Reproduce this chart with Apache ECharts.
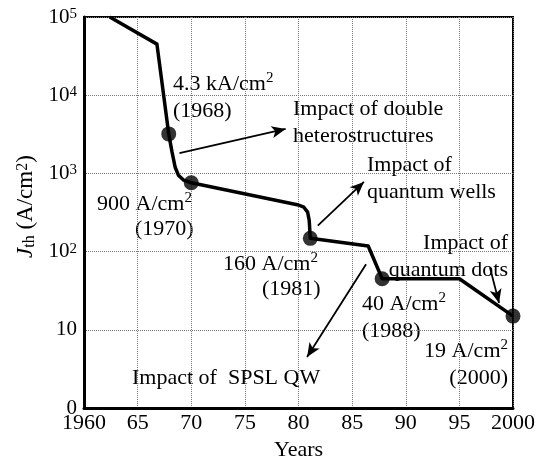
<!DOCTYPE html>
<html>
<head>
<meta charset="utf-8">
<script src="https://cdn.jsdelivr.net/npm/echarts@6/dist/echarts.min.js"></script>
<style>
  html, body { margin: 0; padding: 0; background: #fff; }
  #chart { width: 538px; height: 466px; }
</style>
</head>
<body>
<div id="chart"></div>
<script>
// curve (year, threshold current density A/cm2)
const curveYears = [1962.4, 1966.8, 1967.9, 1968.2, 1968.5, 1968.8, 1969.3, 1970, 1980, 1980.5, 1980.85, 1981.0, 1981.1];
const curveJth   = [100000, 45000, 3200, 1900, 1200, 950, 820, 760, 395, 370, 320, 250, 148];
const tailYears  = [1986.5, 1987.8, 1995, 2000];
const tailJth    = [118, 45, 45, 15];

// labelled milestones (dots)
const dotYears = [1967.9, 1970, 1981.1, 1987.8, 2000];
const dotJth   = [3200, 760, 148, 45, 15];

// arrows: [fromYear, fromJth, toYear, toJth]
const arrows = [
  [1968.9, 1820, 1978.8, 3700],
  [1981.8, 215, 1986.1, 780],
  [1986.3, 69, 1980.8, 4.5],
  [1997.85, 63, 1998.7, 22]
];

const FONT = '"Liberation Serif", "DejaVu Serif", serif';

const chart = echarts.init(document.getElementById('chart'));

// annotation text helper
function note(text, x, y, align) {
  return {
    type: 'text',
    x: x,
    y: y,
    silent: true,
    style: {
      text: text,
      fontSize: 22,
      fontFamily: FONT,
      fill: '#000',
      align: align || 'left',
      verticalAlign: 'top',
      lineHeight: 27,
      rich: {
        sup: { fontSize: 15, fontFamily: FONT, verticalAlign: 'top', lineHeight: 27 },
        n: { fontSize: 22, fontFamily: FONT, lineHeight: 27 }
      }
    }
  };
}

const curve = curveYears.map((x, i) => [x, curveJth[i]])
  .concat(tailYears.map((x, i) => [x, tailJth[i]]));

chart.setOption({
  animation: false,
  grid: {
    left: 84, right: 23, top: 17, bottom: 46,
    show: true, borderColor: '#000', borderWidth: 2, backgroundColor: 'transparent'
  },
  xAxis: {
    type: 'value',
    min: 1960, max: 2000, interval: 5,
    name: 'Years',
    nameLocation: 'middle',
    nameGap: 22,
    nameTextStyle: { fontSize: 22, fontFamily: FONT, color: '#000' },
    axisLine: { show: true, lineStyle: { color: '#000', width: 3 } },
    axisTick: { show: false },
    axisLabel: {
      fontSize: 22, fontFamily: FONT, color: '#000', margin: 4,
      formatter: v => (v === 1960 || v === 2000) ? String(v) : String(v - 1900)
    },
    splitLine: { show: true, lineStyle: { color: '#777', type: 'dotted', width: 1 } }
  },
  yAxis: {
    type: 'log',
    min: 1, max: 100000, logBase: 10,
    name: '{i|J}{sub|th}{n| (A/cm}{sup|2}{n|)}',
    nameLocation: 'middle',
    nameGap: 46,
    nameRotate: 90,
    nameTextStyle: {
      fontFamily: FONT, color: '#000', fontSize: 22,
      padding: [0, 0, 0, 12],
      rich: {
        i: { fontSize: 23, fontFamily: FONT, fontStyle: 'italic', verticalAlign: 'bottom' },
        sub: { fontSize: 16, fontFamily: FONT, verticalAlign: 'bottom' },
        n: { fontSize: 23, fontFamily: FONT, verticalAlign: 'bottom' },
        sup: { fontSize: 16, fontFamily: FONT, verticalAlign: 'top' }
      }
    },
    axisLine: { show: true, lineStyle: { color: '#000', width: 3 } },
    axisTick: { show: false },
    minorTick: { show: false },
    axisLabel: {
      fontSize: 21, fontFamily: FONT, color: '#000', margin: 7,
      formatter: v => {
        const e = Math.round(Math.log10(v));
        if (e === 0) return '0';
        if (e === 1) return '10';
        return '10{sup|' + e + '}';
      },
      rich: { sup: { fontSize: 15, fontFamily: FONT, verticalAlign: 'top', color: '#000' } }
    },
    splitLine: { show: true, lineStyle: { color: '#777', type: 'dotted', width: 1 } }
  },
  series: [
    {
      type: 'line',
      data: curve,
      showSymbol: false,
      symbol: 'none',
      smooth: false,
      lineStyle: { color: '#000', width: 3.5, join: 'round' },
      markLine: {
        silent: true,
        symbol: ['none', 'arrow'],
        symbolSize: [9, 14],
        label: { show: false },
        lineStyle: { color: '#000', width: 1.8, type: 'solid' },
        data: arrows.map(a => [{ coord: [a[0], a[1]] }, { coord: [a[2], a[3]] }])
      }
    },
    {
      type: 'scatter',
      data: dotYears.map((x, i) => [x, dotJth[i]]),
      symbol: 'circle',
      symbolSize: 15,
      itemStyle: { color: '#000' }
    }
  ],
  graphic: [
    note('{n|4.3 kA/cm}{sup|2}\n{n|(1968)}', 173, 71),
    note('Impact of double\nheterostructures', 293, 96),
    note('Impact of\nquantum wells', 367, 152),
    note('{n|900 A/cm}{sup|2}', 97, 191),
    note('(1970)', 135, 216),
    note('{n|160 A/cm}{sup|2}', 223, 251),
    note('(1981)', 262, 276),
    note('{n|40 A/cm}{sup|2}\n{n|(1988)}', 362, 291),
    note('Impact of\nquantum dots', 508, 230, 'right'),
    note('{n|19 A/cm}{sup|2}\n{n|(2000)}', 508, 338, 'right'),
    note('Impact of  SPSL QW', 132, 365)
  ]
});
</script>
</body>
</html>
